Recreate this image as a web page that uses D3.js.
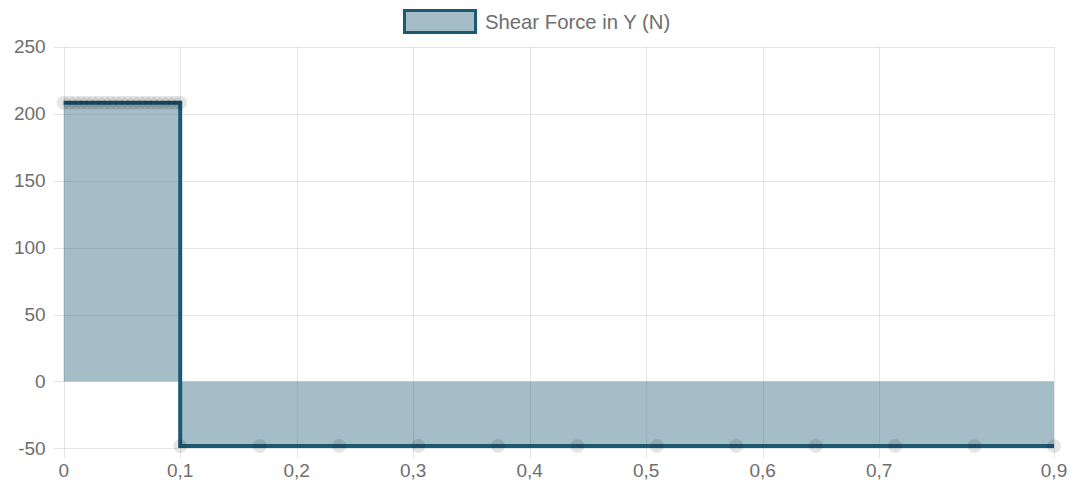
<!DOCTYPE html>
<html>
<head>
<meta charset="utf-8">
<script src="https://cdn.jsdelivr.net/npm/d3@7"></script>
<style>
  html, body { margin: 0; padding: 0; background: #fff; }
  svg { display: block; font-family: "Liberation Sans", Arial, sans-serif; }
</style>
</head>
<body>
<svg id="chart" width="1074" height="490"></svg>
<script>
// ---- data ----
const seriesName = "Shear Force in Y (N)";
const xValues = [
  0, 0.005, 0.01, 0.015, 0.02, 0.025, 0.03, 0.035, 0.04, 0.045, 0.05,
  0.055, 0.06, 0.065, 0.07, 0.075, 0.08, 0.085, 0.09, 0.095, 0.1,
  0.1, 0.1682, 0.2364, 0.3045, 0.3727, 0.4409, 0.5091, 0.5773, 0.6455, 0.7136, 0.7818, 0.85
];
const yValues = [
  208.1, 208.1, 208.1, 208.1, 208.1, 208.1, 208.1, 208.1, 208.1, 208.1, 208.1,
  208.1, 208.1, 208.1, 208.1, 208.1, 208.1, 208.1, 208.1, 208.1, 208.1,
  -48.2, -48.2, -48.2, -48.2, -48.2, -48.2, -48.2, -48.2, -48.2, -48.2, -48.2, -48.2
];
const xTickValues = [0, 0.1, 0.2, 0.3, 0.4, 0.5, 0.6, 0.7, 0.85];
const xTickLabels = ["0", "0,1", "0,2", "0,3", "0,4", "0,5", "0,6", "0,7", "0,9"];
const yTickValues = [-50, 0, 50, 100, 150, 200, 250];
const yTickLabels = ["-50", "0", "50", "100", "150", "200", "250"];

// ---- layout / style ----
const lineColor = "rgb(28,90,116)";
const fillColor = "rgba(28,90,116,0.4)";
const gridColor = "rgba(0,0,0,0.1)";
const textColor = "#6e6e6e";
const plotLeft = 63.7, plotRight = 1054, plotTop = 46.7, plotBottom = 448.4;

const svg = d3.select("#chart");
const x = d3.scaleLinear().domain([0, 0.85]).range([plotLeft, plotRight]);
const y = d3.scaleLinear().domain([-50, 250]).range([plotBottom, plotTop]);

const data = xValues.map((v, i) => ({ x: v, y: yValues[i] }));

// grid
const grid = svg.append("g");
grid.selectAll("line.h").data(yTickValues).enter().append("line")
  .attr("x1", plotLeft - 10).attr("x2", plotRight)
  .attr("y1", d => Math.round(y(d)) + 0.5).attr("y2", d => Math.round(y(d)) + 0.5)
  .attr("stroke", gridColor).attr("stroke-width", 1);
grid.selectAll("line.v").data(xTickValues).enter().append("line")
  .attr("y1", plotTop).attr("y2", plotBottom + 10)
  .attr("x1", d => Math.round(x(d)) + 0.5).attr("x2", d => Math.round(x(d)) + 0.5)
  .attr("stroke", gridColor).attr("stroke-width", 1);

// y tick labels
svg.append("g").selectAll("text").data(yTickValues).enter().append("text")
  .attr("x", plotLeft - 18).attr("y", d => y(d))
  .attr("dy", "0.35em").attr("text-anchor", "end")
  .attr("font-size", 19).attr("fill", textColor)
  .text((d, i) => yTickLabels[i]);

// x tick labels
svg.append("g").selectAll("text").data(xTickValues).enter().append("text")
  .attr("x", d => x(d)).attr("y", plotBottom + 22)
  .attr("dy", "0.35em").attr("text-anchor", "middle")
  .attr("font-size", 19).attr("fill", textColor)
  .text((d, i) => xTickLabels[i]);

// area
const area = d3.area().x(d => x(d.x)).y0(y(0)).y1(d => y(d.y));
svg.append("path").datum(data).attr("d", area).attr("fill", fillColor);

// line
const line = d3.line().x(d => x(d.x)).y(d => y(d.y));
svg.append("path").datum(data).attr("d", line)
  .attr("fill", "none").attr("stroke", lineColor).attr("stroke-width", 4)
  .attr("stroke-linejoin", "miter");

// points
svg.append("g").selectAll("circle").data(data).enter().append("circle")
  .attr("cx", d => x(d.x)).attr("cy", d => y(d.y)).attr("r", 7)
  .attr("fill", "rgba(0,0,0,0.1)");

// legend
const lg = svg.append("g");
lg.append("rect").attr("x", 404.5).attr("y", 10.5).attr("width", 71).attr("height", 22)
  .attr("fill", fillColor).attr("stroke", lineColor).attr("stroke-width", 3);
lg.append("text").attr("x", 485).attr("y", 21.5).attr("dy", "0.35em")
  .attr("font-size", 20.3).attr("fill", textColor).text(seriesName);
</script>
</body>
</html>
